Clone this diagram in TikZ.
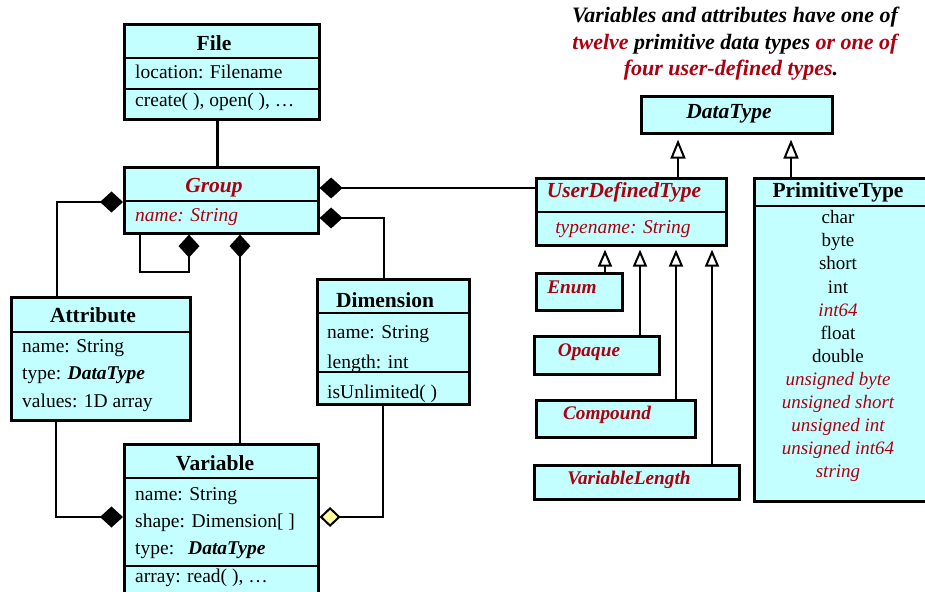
\documentclass[tikz,border=0pt]{standalone}
\usepackage{fontspec}
\setmainfont{Liberation Serif}
\usetikzlibrary{arrows.meta}
\definecolor{boxcyan}{RGB}{196,255,255}
\definecolor{dred}{RGB}{172,0,16}
\definecolor{dyellow}{RGB}{255,255,160}
\tikzset{
 cls/.style={draw, line width=2.6bp, fill=boxcyan, inner sep=0pt, anchor=north west},
 sepline/.style={line width=2.6bp, line cap=butt},
 ttl/.style={font=\fontsize{21.5bp}{24bp}\selectfont\bfseries, anchor=base, inner sep=0pt},
 ttli/.style={font=\fontsize{21.5bp}{24bp}\selectfont\bfseries\itshape, anchor=base, inner sep=0pt},
 attrtxt/.style={font=\fontsize{19.5bp}{23bp}\selectfont, anchor=base west, inner sep=0pt},
 listtxt/.style={font=\fontsize{19bp}{22bp}\selectfont, anchor=base, inner sep=0pt},
 subtxt/.style={font=\fontsize{19.3bp}{22bp}\selectfont\bfseries\itshape, anchor=base, inner sep=0pt, text=dred},
 notetxt/.style={font=\fontsize{22bp}{26bp}\selectfont\bfseries\itshape, anchor=base, inner sep=0pt},
 conn/.style={line width=2bp, line join=miter},
 comp/.style={conn, {Diamond[length=23bp,width=21bp]}-},
 aggr/.style={conn, {Diamond[length=21bp,width=20bp,fill=dyellow]}-},
 gen/.style={conn, -{Triangle[length=19bp,width=15bp,fill=white]}, shorten >=5bp},
 gensub/.style={conn, -{Triangle[length=17bp,width=14bp,fill=white]}, shorten >=3bp},
}
\begin{document}
\begin{tikzpicture}[x=1bp,y=-1bp]
\useasboundingbox (0,0) rectangle (925,592);
\clip (0,0) rectangle (925,592);

% ---------- note ----------
\node[notetxt] (note1) at (735,23) {Variables and attributes have one of};
\node[notetxt] (note2) at (735,50) {\textcolor{dred}{twelve} primitive data types \textcolor{dred}{or one of}};
\node[notetxt] (note3) at (731,76) {\textcolor{dred}{four user-defined types}.};

% ---------- class boxes ----------
\node[cls, minimum width=195bp, minimum height=95bp] (file) at (123,23) {};
\node[cls, minimum width=194bp, minimum height=66bp] (group) at (123,166) {};
\node[cls, minimum width=179bp, minimum height=123bp] (attr) at (10,296) {};
\node[cls, minimum width=152bp, minimum height=125bp] (dim) at (316,278) {};
\node[cls, minimum width=194bp, minimum height=160bp] (var) at (123,443) {};
\node[cls, minimum width=191bp, minimum height=37bp] (dtype) at (640,95) {};
\node[cls, minimum width=190bp, minimum height=67bp] (udt) at (535,177) {};
\node[cls, minimum width=180bp, minimum height=323bp] (prim) at (753,177) {};
\node[cls, minimum width=86bp, minimum height=37bp] (enum) at (535,272) {};
\node[cls, minimum width=125bp, minimum height=38bp] (opaque) at (533,335) {};
\node[cls, minimum width=159bp, minimum height=37bp] (compound) at (535,399) {};
\node[cls, minimum width=205bp, minimum height=34bp] (varlen) at (533,464) {};

% ---------- compartment separators ----------
\coordinate (s1) at (0,58);  \coordinate (s2) at (0,89);
\coordinate (s3) at (0,201); \coordinate (s4) at (0,332);
\coordinate (s5) at (0,313); \coordinate (s6) at (0,372);
\coordinate (s7) at (0,478); \coordinate (s8) at (0,566);
\coordinate (s9) at (0,212); \coordinate (s10) at (0,206);
\draw[sepline] (file.west |- s1) -- (file.east |- s1);
\draw[sepline] (file.west |- s2) -- (file.east |- s2);
\draw[sepline] (group.west |- s3) -- (group.east |- s3);
\draw[sepline] (attr.west |- s4) -- (attr.east |- s4);
\draw[sepline] (dim.west |- s5) -- (dim.east |- s5);
\draw[sepline] (dim.west |- s6) -- (dim.east |- s6);
\draw[sepline] (var.west |- s7) -- (var.east |- s7);
\draw[sepline] (var.west |- s8) -- (var.east |- s8);
\draw[sepline] (udt.west |- s9) -- (udt.east |- s9);
\draw[sepline] (prim.west |- s10) -- (prim.east |- s10);

% ---------- texts ----------
\node[ttl] (fileT) at (214,51) {File};
\node[attrtxt] (fileA) at (135,79) {location: Filename};
\node[attrtxt] (fileM) at (135,107) {create( ), open( ), …};

\node[ttli, text=dred] (groupT) at (214,193) {Group};
\node[attrtxt, text=dred, font=\fontsize{19.5bp}{23bp}\selectfont\itshape] (groupA) at (135,222) {name: String};

\node[ttl] (attrT) at (93,322) {Attribute};
\node[attrtxt] (attrA1) at (22,352) {name: String};
\node[attrtxt] (attrA2) at (22,379) {type: \textbf{\textit{DataType}}};
\node[attrtxt] (attrA3) at (22,407) {values: 1D array};

\node[ttl] (dimT) at (385,307) {Dimension};
\node[attrtxt] (dimA1) at (327,338) {name: String};
\node[attrtxt] (dimA2) at (327,368) {length: int};
\node[attrtxt] (dimM) at (327,398) {isUnlimited( )};

\node[ttl] (varT) at (215,470) {Variable};
\node[attrtxt] (varA1) at (135,500) {name: String};
\node[attrtxt] (varA2) at (135,527) {shape: Dimension[ ]};
\node[attrtxt] (varA3) at (135,554) {type:\hspace{14bp}\textbf{\textit{DataType}}};
\node[attrtxt] (varM) at (135,582) {array: read( ), …};

\node[ttli] (dtypeT) at (729,119) {DataType};
\node[ttli, text=dred] (udtT) at (624,198) {UserDefinedType};
\node[listtxt, text=dred, font=\fontsize{19.5bp}{23bp}\selectfont\itshape] (udtA) at (623,234) {typename: String};
\node[ttl] (primT) at (838,198) {PrimitiveType};

\node[listtxt] (p1) at (838,224) {char};
\node[listtxt] (p2) at (838,247) {byte};
\node[listtxt] (p3) at (838,270) {short};
\node[listtxt] (p4) at (838,293) {int};
\node[listtxt, text=dred, font=\fontsize{19bp}{22bp}\selectfont\itshape] (p5) at (838,316) {int64};
\node[listtxt] (p6) at (838,339) {float};
\node[listtxt] (p7) at (838,362) {double};
\node[listtxt, text=dred, font=\fontsize{19bp}{22bp}\selectfont\itshape] (p8) at (838,385) {unsigned byte};
\node[listtxt, text=dred, font=\fontsize{19bp}{22bp}\selectfont\itshape] (p9) at (838,408) {unsigned short};
\node[listtxt, text=dred, font=\fontsize{19bp}{22bp}\selectfont\itshape] (p10) at (838,431) {unsigned int};
\node[listtxt, text=dred, font=\fontsize{19bp}{22bp}\selectfont\itshape] (p11) at (838,454) {unsigned int64};
\node[listtxt, text=dred, font=\fontsize{19bp}{22bp}\selectfont\itshape] (p12) at (838,477) {string};

\node[subtxt] (enumT) at (572,293) {Enum};
\node[subtxt] (opaqueT) at (589,356) {Opaque};
\node[subtxt] (compoundT) at (607,419) {Compound};
\node[subtxt] (varlenT) at (629,484) {VariableLength};

% ---------- connectors ----------
\coordinate (c1) at (217,0);
\draw[line width=3bp] (file.south -| c1) -- (group.north -| c1);

\coordinate (k1) at (57,202);
\draw[comp] (group.west |- k1) -- (k1) -- (attr.north -| k1);

\coordinate (k2) at (189,272); \coordinate (k3) at (140,272);
\draw[comp] (group.south -| k2) -- (k2) -- (k3) -- (group.south -| k3);

\coordinate (k4) at (240,0);
\draw[comp] (group.south -| k4) -- (var.north -| k4);

\coordinate (k5) at (0,188);
\draw[comp] (group.east |- k5) -- (udt.west |- k5);

\coordinate (k6) at (384,218);
\draw[comp] (group.east |- k6) -- (k6) -- (dim.north -| k6);

\coordinate (k7) at (56,517);
\draw[comp] (var.west |- k7) -- (k7) -- (attr.south -| k7);

\coordinate (k8) at (383,517);
\draw[aggr] (var.east |- k8) -- (k8) -- (dim.south -| k8);

\coordinate (g1) at (678,0); \coordinate (g2) at (791,0);
\draw[gen] (udt.north -| g1) -- (dtype.south -| g1);
\draw[gen] (prim.north -| g2) -- (dtype.south -| g2);

\coordinate (g3) at (605,0); \coordinate (g4) at (640,0);
\coordinate (g5) at (676,0); \coordinate (g6) at (712,0);
\draw[gensub] (enum.north -| g3) -- (udt.south -| g3);
\draw[gensub] (opaque.north -| g4) -- (udt.south -| g4);
\draw[gensub] (compound.north -| g5) -- (udt.south -| g5);
\draw[gensub] (varlen.north -| g6) -- (udt.south -| g6);
\end{tikzpicture}
\end{document}
